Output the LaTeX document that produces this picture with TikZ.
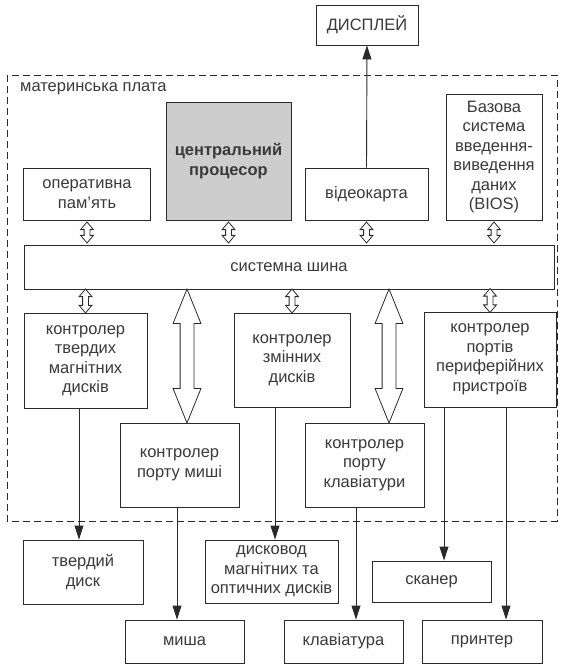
\documentclass[tikz,border=0pt]{standalone}
\usepackage{fontspec}
\setmainfont{Liberation Sans}
\usetikzlibrary{arrows.meta, shapes.arrows, positioning, calc}
\definecolor{mbLine}{HTML}{2A2A2A}
\definecolor{mbText}{HTML}{3A3A3A}
\definecolor{mbCPU}{HTML}{CDCDCD}
\tikzset{
  blk/.style={draw=mbLine, line width=0.9pt, fill=white, align=center,
    text=mbText, font=\fontsize{16.5}{19.5}\selectfont, inner sep=1pt},
  cpu/.style={blk, fill=mbCPU, font=\fontsize{16.5}{19.5}\selectfont\bfseries},
  board/.style={draw=mbLine, line width=0.9pt, dash pattern=on 7pt off 4pt},
  conn/.style={draw=mbLine, line width=0.9pt, -{Triangle[length=14pt, width=9pt]}},
  busarrow/.style={double arrow, draw=mbLine, line width=0.8pt, fill=white,
    shape border rotate=90, inner sep=2.5pt, double arrow head extend=3.5pt,
    double arrow tip angle=80},
  bigarrow/.style={busarrow, inner sep=6.5pt, double arrow head extend=7pt,
    double arrow tip angle=44}
}
\begin{document}
\begin{tikzpicture}[x=1pt, y=-1pt]
  \useasboundingbox (0,0) rectangle (563,666);
  % motherboard frame
  \draw[board] (7,75) rectangle (557,521);
  \node[font=\fontsize{16.5}{19.5}\selectfont, text=mbText, anchor=west, inner sep=0pt] (mblabel) at (20,89) {материнська плата};

  % top row
  \node[blk, minimum width=102pt, minimum height=40pt] (disp) at (367,25) {ДИСПЛЕЙ};
  \node[blk, minimum width=127pt, minimum height=52pt] (ram) at (87,194) {оперативна\\пам'ять};
  \node[cpu, minimum width=125pt, minimum height=118pt] (cpu) at (228.5,161) {центральний\\процесор};
  \node[blk, minimum width=123pt, minimum height=52pt] (vga) at (366.5,194) {відеокарта};
  \node[blk, minimum width=96pt, minimum height=126pt] (bios) at (494,157) {Базова\\система\\введення-\\виведення\\даних\\(BIOS)};

  % system bus
  \node[blk, minimum width=530pt, minimum height=44pt] (bus) at (289,267) {системна шина};

  % controllers
  \node[blk, minimum width=123pt, minimum height=95pt] (hddc) at (85.5,360.5) {контролер\\твердих\\магнітних\\дисків};
  \node[blk, minimum width=116pt, minimum height=94pt] (rdc) at (292,360) {контролер\\змінних\\дисків};
  \node[blk, minimum width=132pt, minimum height=95pt] (portc) at (490,359.5) {контролер\\портів\\периферійних\\пристроїв};
  \node[blk, minimum width=119pt, minimum height=84pt] (msc) at (179.5,465) {контролер\\порту миші};
  \node[blk, minimum width=119pt, minimum height=84pt] (kbc) at (364.5,465) {контролер\\порту\\клавіатури};

  % devices
  \node[blk, minimum width=120pt, minimum height=64pt] (hdd) at (83,572) {твердий\\диск};
  \node[blk, minimum width=133pt, minimum height=63pt] (dd) at (271.5,571.5) {дисковод\\магнітних та\\оптичних дисків};
  \node[blk, minimum width=119pt, minimum height=41pt] (scan) at (431.5,581.5) {сканер};
  \node[blk, minimum width=119pt, minimum height=43pt] (mouse) at (184.5,641.5) {миша};
  \node[blk, minimum width=119pt, minimum height=43pt] (kbd) at (343.5,641.5) {клавіатура};
  \node[blk, minimum width=120pt, minimum height=43pt] (prn) at (482,641.5) {принтер};

  % bus links
  \foreach \n in {ram, cpu, vga, bios}
    \node[busarrow, minimum height=21pt] at ($(\n.south)!0.5!(\n.south |- bus.north)$) {};
  \foreach \n in {hddc, rdc, portc}
    \node[busarrow, minimum height=24pt] at ($(\n.north)!0.5!(\n.north |- bus.south)$) {};
  \node[bigarrow, minimum height=134pt] (msbus) at (187,356) {};
  \node[bigarrow, minimum height=134pt] (kbbus) at (389,356) {};

  % connectors
  \draw[conn] (vga.north) -- (disp.south);
  \draw[conn] ([xshift=-6.5pt]hddc.south) -- ([xshift=-6.5pt]hddc.south |- hdd.north);
  \draw[conn] ([xshift=-2.5pt]msc.south) -- ([xshift=-2.5pt]msc.south |- mouse.north);
  \draw[conn] ([xshift=-17pt]rdc.south) -- ([xshift=-17pt]rdc.south |- dd.north);
  \draw[conn] ([xshift=-8.5pt]kbc.south) -- ([xshift=-8.5pt]kbc.south |- kbd.north);
  \draw[conn] ([xshift=-46pt]portc.south) -- ([xshift=-46pt]portc.south |- scan.north);
  \draw[conn] ([xshift=16pt]portc.south) -- ([xshift=16pt]portc.south |- prn.north);
\end{tikzpicture}
\end{document}
